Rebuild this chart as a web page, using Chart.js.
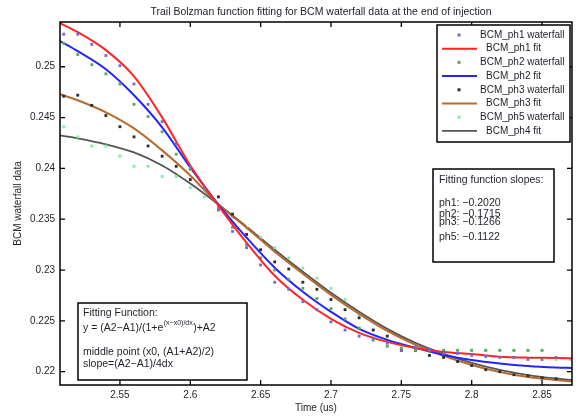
<!DOCTYPE html>
<html>
<head>
<meta charset="utf-8">
<script src="https://cdn.jsdelivr.net/npm/chart.js@4.4.1/dist/chart.umd.min.js"></script>
<style>
  html, body { margin: 0; padding: 0; background: #fff; }
  #wrap { width: 579px; height: 417px; }
</style>
</head>
<body>
<div id="wrap"><canvas id="bcmChart" width="579" height="417"></canvas></div>
<script>
// temps des mesures waterfall (us)
const timeData = [2.51, 2.52, 2.53, 2.54, 2.55, 2.56, 2.57, 2.58, 2.59, 2.60,
                  2.61, 2.62, 2.63, 2.64, 2.65, 2.66, 2.67, 2.68, 2.69, 2.70,
                  2.71, 2.72, 2.73, 2.74, 2.75, 2.76, 2.77, 2.78, 2.79, 2.80,
                  2.81, 2.82, 2.83, 2.84, 2.85, 2.86, 2.87];

// points
const ph1Waterfall = [0.2532, 0.2532, 0.2522, 0.2511, 0.2501, 0.2483, 0.2463, 0.2446, 0.2424, 0.2401,
                      0.2381, 0.2359, 0.2338, 0.2322, 0.2305, 0.2288, 0.2281, 0.2269, 0.2261, 0.2249,
                      0.2241, 0.2235, 0.2233, 0.2228, 0.2221, 0.2224, 0.2221, 0.2218, 0.2218, 0.2216,
                      0.2215, 0.2214, 0.2214, 0.2212, 0.2212, 0.2214];
const ph2Waterfall = [0.2523, 0.2512, 0.2502, 0.2493, 0.2483, 0.2463, 0.2451, 0.2436, 0.2414, 0.2399,
                      0.2379, 0.2361, 0.2342, 0.2325, 0.2312, 0.2300, 0.2291, 0.2282, 0.2272, 0.2262,
                      0.2252, 0.2243, 0.2231, 0.2225, 0.2223, 0.2221, 0.2220, 0.2221, 0.2221, 0.2221,
                      0.2221, 0.2221, 0.2221, 0.2221, 0.2221];
const ph3Waterfall = [0.2471, 0.2472, 0.2462, 0.2452, 0.2441, 0.2431, 0.2422, 0.2412, 0.2402, 0.2389,
                      0.2381, 0.2372, 0.2355, 0.2335, 0.2320, 0.2308, 0.2301, 0.2288, 0.2281, 0.2271,
                      0.2261, 0.2253, 0.2241, 0.2235, 0.2221, 0.2221, 0.2216, 0.2214, 0.2210, 0.2206,
                      0.2202, 0.2200, 0.2197, 0.2196, 0.2194, 0.2193];
const ph5Waterfall = [0.2441, 0.2431, 0.2422, 0.2422, 0.2412, 0.2402, 0.2402, 0.2392, 0.2392, 0.2381,
                      0.2372, 0.2362, 0.2352, 0.2342, 0.2332, 0.2322, 0.2312, 0.2302, 0.2292, 0.2282,
                      0.2271, 0.2256, 0.2241, 0.2231, 0.2226, 0.2221, 0.2221, 0.2221, 0.2221, 0.2221,
                      0.2221, 0.2221, 0.2221, 0.2221, 0.2221, 0.2212, 0.2212];

// courbes de fit (Boltzmann), relevées tous les 0.02 us
const fitTime = [2.5075, 2.52, 2.54, 2.56, 2.58, 2.60, 2.62, 2.64, 2.66, 2.68,
                 2.70, 2.72, 2.74, 2.76, 2.78, 2.80, 2.82, 2.84, 2.86, 2.8713];
const ph1Fit = [0.25429, 0.25340, 0.25163, 0.24906, 0.24502, 0.24029, 0.23634, 0.23269, 0.22944, 0.22707,
                0.22520, 0.22382, 0.22293, 0.22234, 0.22194, 0.22174, 0.22148, 0.22138, 0.22135, 0.22132];
const ph2Fit = [0.25252, 0.25153, 0.24975, 0.24719, 0.24403, 0.24009, 0.23644, 0.23319, 0.23023, 0.22786,
                0.22589, 0.22421, 0.22313, 0.22234, 0.22165, 0.22115, 0.22081, 0.22056, 0.22041, 0.22036];
const ph3Fit = [0.24729, 0.24670, 0.24551, 0.24393, 0.24177, 0.23930, 0.23644, 0.23417, 0.23180, 0.22964,
                0.22756, 0.22569, 0.22401, 0.22263, 0.22155, 0.22066, 0.21997, 0.21948, 0.21918, 0.21903];
const ph4Fit = [0.24324, 0.24295, 0.24236, 0.24157, 0.24029, 0.23851, 0.23644, 0.23427, 0.23200, 0.22983,
                0.22776, 0.22589, 0.22421, 0.22283, 0.22175, 0.22086, 0.22017, 0.21967, 0.21933, 0.21918];

// graduations
const xTickValues = [2.55, 2.6, 2.65, 2.7, 2.75, 2.8, 2.85];
const yTickValues = [0.22, 0.225, 0.23, 0.235, 0.24, 0.245, 0.25];

const legendLabels = ['BCM_ph1 waterfall', 'BCM_ph1 fit', 'BCM_ph2 waterfall', 'BCM_ph2 fit',
                      'BCM_ph3 waterfall', 'BCM_ph3 fit', 'BCM_ph5 waterfall', 'BCM_ph4 fit'];
const slopeNames = ['ph1', 'ph2', 'ph3', 'ph5'];
const slopeValues = ['0.2020', '0.1715', '0.1266', '0.1122'];

const FONT = '"Liberation Sans", Arial, sans-serif';
const TEXT = '#1e1e28';

function pairs(xs, ys) {
    return ys.map((y, i) => ({ x: xs[i], y: y }));
}

function points(label, xs, ys, color) {
    return {
        label: label, data: pairs(xs, ys), showLine: false,
        pointStyle: 'rect', pointRadius: 2, pointBorderWidth: 0,
        pointBackgroundColor: color, backgroundColor: color, borderColor: color
    };
}

function fitLine(label, xs, ys, color, width) {
    return {
        label: label, data: pairs(xs, ys), showLine: true,
        pointRadius: 0, borderColor: color, borderWidth: width,
        cubicInterpolationMode: 'monotone', fill: false
    };
}

// cadre, graduations internes, légende et encadrés de texte
const matlabFrame = {
    id: 'matlabFrame',
    afterDatasetsDraw(chart) {
        const { ctx, chartArea: a, scales } = chart;
        ctx.save();

        ctx.strokeStyle = '#000';
        ctx.lineWidth = 1.5;
        ctx.strokeRect(a.left, a.top, a.right - a.left, a.bottom - a.top);

        ctx.lineWidth = 1.3;
        ctx.beginPath();
        scales.x.ticks.forEach(t => {
            const px = scales.x.getPixelForValue(t.value);
            ctx.moveTo(px, a.bottom); ctx.lineTo(px, a.bottom - 5);
            ctx.moveTo(px, a.top); ctx.lineTo(px, a.top + 5);
        });
        scales.y.ticks.forEach(t => {
            const py = scales.y.getPixelForValue(t.value);
            ctx.moveTo(a.left, py); ctx.lineTo(a.left + 5, py);
            ctx.moveTo(a.right, py); ctx.lineTo(a.right - 5, py);
        });
        ctx.stroke();

        // légende
        ctx.fillStyle = '#fff';
        ctx.fillRect(437, 25, 133, 117);
        ctx.lineWidth = 1.5;
        ctx.strokeRect(437, 25, 133, 117);
        ctx.font = '10px ' + FONT;
        ctx.textBaseline = 'middle';
        ctx.textAlign = 'left';
        chart.data.datasets.forEach((ds, i) => {
            const rowY = 35 + i * 13.7;
            if (ds.showLine) {
                ctx.strokeStyle = ds.borderColor;
                ctx.lineWidth = ds.borderWidth;
                ctx.beginPath();
                ctx.moveTo(442, rowY); ctx.lineTo(477, rowY);
                ctx.stroke();
                ctx.fillStyle = TEXT;
                ctx.fillText(ds.label, 486, rowY);
            } else {
                ctx.fillStyle = ds.pointBackgroundColor;
                ctx.fillRect(457.5, rowY - 1.5, 3, 3);
                ctx.fillStyle = TEXT;
                ctx.fillText(ds.label, 480, rowY);
            }
        });

        // pentes
        ctx.font = '10.5px ' + FONT;
        ctx.fillStyle = '#fff';
        ctx.fillRect(433, 169, 121, 93);
        ctx.strokeStyle = '#000';
        ctx.lineWidth = 1.5;
        ctx.strokeRect(433, 169, 121, 93);
        ctx.fillStyle = TEXT;
        ctx.fillText('Fitting function slopes:', 439, 180);
        const slopeRows = [203, 214, 222, 237];
        slopeNames.forEach((n, i) => {
            ctx.fillText(n + ': \u2212' + slopeValues[i], 439, slopeRows[i]);
        });

        // fonction de fit
        ctx.fillStyle = '#fff';
        ctx.fillRect(78, 303, 169, 77);
        ctx.strokeRect(78, 303, 169, 77);
        ctx.fillStyle = TEXT;
        ctx.fillText('Fitting Function:', 83, 313);
        const part1 = 'y = (A2\u2212A1)/(1+e';
        ctx.fillText(part1, 83, 328);
        let cx = 83 + ctx.measureText(part1).width;
        ctx.font = '7px ' + FONT;
        const sup = '(x\u2212x0)/dx';
        ctx.fillText(sup, cx + 0.5, 323);
        cx += ctx.measureText(sup).width + 1;
        ctx.font = '10.5px ' + FONT;
        ctx.fillText(')+A2', cx, 328);
        ctx.fillText('middle point (x0, (A1+A2)/2)', 83, 352);
        ctx.fillText('slope=(A2\u2212A1)/4dx', 83, 364);

        ctx.restore();
    },
    afterDraw(chart) {
        const { ctx } = chart;
        ctx.save();
        ctx.font = '10.5px ' + FONT;
        ctx.fillStyle = TEXT;
        ctx.textAlign = 'center';
        ctx.textBaseline = 'middle';
        ctx.fillText('Trail Bolzman function fitting for BCM waterfall data at the end of injection', 321, 12);
        ctx.restore();
    }
};

Chart.defaults.font.family = FONT;
Chart.defaults.font.size = 10;
Chart.defaults.color = TEXT;

const ctx = document.getElementById('bcmChart').getContext('2d');
const bcmChart = new Chart(ctx, {
    type: 'scatter',
    data: {
        datasets: [
            points(legendLabels[0], timeData, ph1Waterfall, '#7a66c9'),
            fitLine(legendLabels[1], fitTime, ph1Fit, '#ff2424', 2),
            points(legendLabels[2], timeData, ph2Waterfall, '#5aa85a'),
            fitLine(legendLabels[3], fitTime, ph2Fit, '#2424ff', 2),
            points(legendLabels[4], timeData, ph3Waterfall, '#2e2e2e'),
            fitLine(legendLabels[5], fitTime, ph3Fit, '#b86a2e', 2),
            points(legendLabels[6], timeData, ph5Waterfall, '#7eeda6'),
            fitLine(legendLabels[7], fitTime, ph4Fit, '#555555', 1.8)
        ]
    },
    options: {
        responsive: false,
        animation: false,
        layout: { padding: { top: 22, right: 7, left: 0, bottom: 0 } },
        plugins: {
            legend: { display: false },
            tooltip: { enabled: false }
        },
        scales: {
            x: {
                type: 'linear',
                position: 'bottom',
                min: 2.5074,
                max: 2.8713,
                afterBuildTicks: s => { s.ticks = xTickValues.map(v => ({ value: v })); },
                afterFit: s => { s.height = 32; },
                ticks: { padding: 4, callback: v => String(v), maxRotation: 0 },
                grid: { display: false, drawTicks: false },
                border: { display: false },
                title: { display: true, text: 'Time (us)', padding: { top: 0, bottom: 3 } }
            },
            y: {
                type: 'linear',
                position: 'left',
                min: 0.21869,
                max: 0.2544,
                afterBuildTicks: s => { s.ticks = yTickValues.map(v => ({ value: v })); },
                afterFit: s => { s.width = 60; },
                ticks: { padding: 5, callback: v => String(v) },
                grid: { display: false, drawTicks: false },
                border: { display: false },
                title: { display: true, text: 'BCM waterfall data', padding: { top: 12, bottom: 0 } }
            }
        }
    },
    plugins: [matlabFrame]
});
</script>
</body>
</html>
